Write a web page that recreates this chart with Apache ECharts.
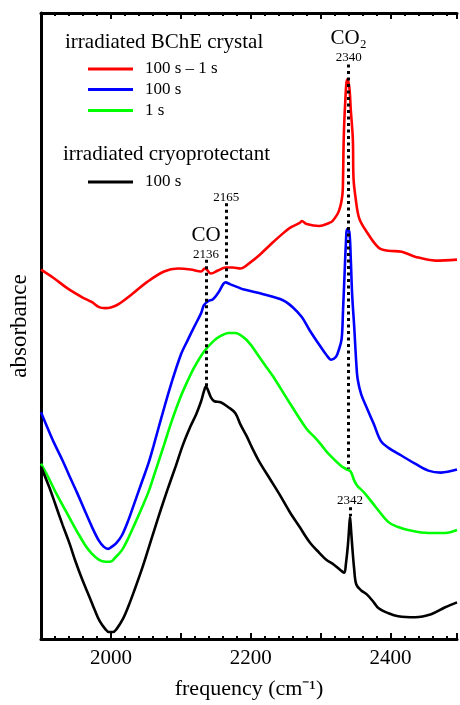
<!DOCTYPE html>
<html><head><meta charset="utf-8">
<script src="https://cdn.jsdelivr.net/npm/echarts@6/dist/echarts.min.js"></script>
<style>html,body{margin:0;padding:0;background:#fff}#c{width:460px;height:705px}</style>
</head><body><div id="c"></div><script>
// ---- data (frequency in cm^-1, absorbance in arbitrary offset units) ----
const freqRed = [1900,1917,1938,1959,1973,1983,1992,2001,2011,2030,2051,2076,2096,2114,2129,2134,2137,2143,2153,2164,2174,2185,2199,2213,2228,2242,2256,2270,2273,2280,2298,2312,2317,2326,2331,2332,2333,2335,2338,2341,2343,2346,2347,2350,2355,2365,2383,2397,2416,2435,2464,2495];
const absRed  = [373,365,354,345,340,335,334,335,338,348,360,371,374,373,371,374,373,369,372,375,375,374,380,388,398,407,415,420,422,419,417,420,422,432,448,465,505,540,565,557,535,505,465,445,425,412,395,392,391,386,382,383];

const freqBlue = [1900,1910,1918,1931,1941,1952,1963,1973,1983,1990,1996,2001,2008,2016,2025,2034,2044,2054,2061,2072,2086,2100,2110,2119,2129,2133,2139,2146,2154,2164,2171,2182,2189,2218,2246,2260,2273,2284,2298,2308,2315,2322,2326,2330,2332,2334,2336,2338,2341,2343,2345,2348,2351,2353,2358,2365,2376,2386,2397,2416,2435,2454,2472,2495];
const absBlue  = [229,212,199,180,164,147,129,113,99,93,91,93,97,105,120,138,158,178,195,223,257,287,302,315,329,337,341,343,350,360,358,355,353,348,342,335,325,312,297,287,282,285,292,303,332,365,398,414,411,385,348,315,278,262,247,235,217,200,193,185,177,170,168,171];

const freqGreen = [1900,1912,1921,1931,1941,1952,1963,1973,1983,1992,1999,2006,2016,2025,2034,2044,2054,2062,2076,2086,2100,2110,2119,2133,2147,2157,2168,2178,2189,2199,2209,2220,2232,2256,2280,2291,2302,2310,2329,2338,2343,2348,2352,2362,2379,2397,2411,2425,2454,2478,2495];
const absGreen  = [177,161,148,135,122,108,95,86,80,78,78,82,90,102,116,132,149,166,196,218,245,261,274,290,301,306,309,309,305,298,288,277,265,238,212,204,195,188,175,171,169,160,155,148,133,118,113,110,107,107,110];

const freqBlack = [1900,1912,1921,1931,1941,1949,1959,1969,1977,1984,1992,1997,2003,2008,2017,2025,2034,2044,2054,2062,2072,2082,2093,2103,2114,2122,2129,2133,2136,2139,2143,2148,2157,2168,2178,2185,2194,2202,2213,2228,2242,2256,2270,2284,2298,2308,2319,2331,2334,2336,2339,2341,2342,2343,2345,2348,2351,2358,2366,2376,2383,2397,2411,2435,2458,2478,2495];
const absBlack  = [174,153,135,115,96,79,60,43,29,18,10,7,7,10,20,33,50,70,92,110,132,153,175,196,215,227,240,250,255,251,244,240,239,234,228,217,205,193,178,161,145,128,113,98,87,80,75,68,67,75,95,115,123,115,95,70,55,49,45,37,31,26,23,22,25,32,37];

const seriesNames = ['100 s \u2013 1 s', '100 s', '1 s', '100 s '];
const seriesColors = ['#ff0000', '#0000ff', '#00ff00', '#000000'];

// annotation lines: [frequency, from, to]
const markFreqs = [2340, 2136, 2165, 2342];
const markTops  = [580, 383, 440, 133];
const markBots  = [172, 255, 362, 124];
// annotation texts
const noteTexts = ['CO\u2082', '2340', 'CO', '2136', '2165', '2342'];
const noteFreqs = [2340, 2340, 2136, 2136, 2165, 2342];
const noteAbs   = [606, 587, 407, 388, 446, 140];
const noteSizes = [21, 13, 21, 13, 13, 13];

const xTicks = { min: 1900, max: 2495, interval: 100 };

const FONT = '"Liberation Serif", "Times New Roman", serif';
const pairs = (f, a) => f.map((x, i) => [x, a[i]]);
const dataSets = [pairs(freqRed, absRed), pairs(freqBlue, absBlue), pairs(freqGreen, absGreen), pairs(freqBlack, absBlack)];

const chart = echarts.init(document.getElementById('c'), null, { renderer: 'canvas' });

const axisCommon = {
  type: 'value', min: xTicks.min, max: xTicks.max, interval: xTicks.interval,
  axisLine: { show: true, onZero: false, lineStyle: { color: '#000', width: 3 } },
  axisTick: { show: true, inside: true, length: 6, lineStyle: { color: '#000', width: 2 } },
  minorTick: { show: true, splitNumber: 5, length: 3, lineStyle: { color: '#000', width: 2 } },
  splitLine: { show: false }, minorSplitLine: { show: false }
};

const series = dataSets.map((d, i) => ({
  name: seriesNames[i], type: 'line', data: d, color: seriesColors[i],
  showSymbol: false, symbol: 'none', smooth: 0.35,
  lineStyle: { width: 2.6, color: seriesColors[i] }, silent: true
}));

series.push({
  name: 'annotations', type: 'line', data: [], z: 10, silent: true,
  markLine: {
    silent: true, symbol: ['none', 'none'], animation: false,
    lineStyle: { color: '#000', width: 3, type: [3, 3.5] },
    label: { show: false },
    data: markFreqs.map((f, i) => [{ coord: [f, markTops[i]] }, { coord: [f, markBots[i]] }])
  },
  markPoint: {
    silent: true, symbol: 'circle', symbolSize: 0, animation: false,
    data: noteTexts.map((t, i) => ({
      coord: [noteFreqs[i], noteAbs[i]], value: t,
      label: { show: true, position: 'inside', formatter: t, color: '#000', fontFamily: FONT, fontSize: noteSizes[i] }
    }))
  }
});

const legendItems = [];
const legendLine = (y, color) => ({ type: 'line', shape: { x1: 88, y1: y, x2: 133, y2: y }, style: { stroke: color, lineWidth: 3 } });
const legendText = (x, y, text, size) => ({ type: 'text', x: x, y: y, style: { text: text, fill: '#000', font: size + 'px ' + FONT, verticalAlign: 'middle', align: 'left' } });
legendItems.push(legendText(65, 42, 'irradiated BChE crystal', 21));
legendItems.push(legendLine(69, seriesColors[0]), legendText(145, 69, seriesNames[0], 17));
legendItems.push(legendLine(89.5, seriesColors[1]), legendText(145, 90, seriesNames[1], 17));
legendItems.push(legendLine(110.5, seriesColors[2]), legendText(145, 111, seriesNames[2], 17));
legendItems.push(legendText(63, 154, 'irradiated cryoprotectant', 21));
legendItems.push(legendLine(182, seriesColors[3]), legendText(145, 182, '100 s', 17));

chart.setOption({
  animation: false,
  backgroundColor: '#fff',
  grid: { left: 39, right: 0, top: 13, bottom: 60, containLabel: false },
  xAxis: [
    Object.assign({}, axisCommon, {
      position: 'bottom',
      axisLabel: { show: true, formatter: v => (v % 200 === 0 ? String(v) : ''), color: '#000', fontFamily: FONT, fontSize: 21, margin: 9 },
      name: 'frequency (cm\u207B\u00B9)', nameLocation: 'middle', nameGap: 39,
      nameTextStyle: { color: '#000', fontFamily: FONT, fontSize: 22 }
    }),
    Object.assign({}, axisCommon, { position: 'top', axisLabel: { show: false } })
  ],
  yAxis: {
    type: 'value', min: 0, max: 632,
    axisLine: { show: true, lineStyle: { color: '#000', width: 3 } },
    axisTick: { show: false }, axisLabel: { show: false }, splitLine: { show: false },
    name: 'absorbance', nameLocation: 'middle', nameGap: 10,
    nameTextStyle: { color: '#000', fontFamily: FONT, fontSize: 23 }
  },
  graphic: legendItems,
  series: series
});
</script></body></html>
